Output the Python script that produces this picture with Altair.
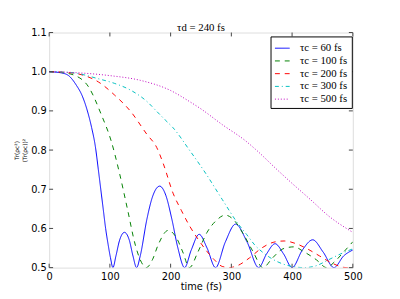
import altair as alt
import pandas as pd

series_labels = ["τc = 60 fs", "τc = 100 fs", "τc = 200 fs", "τc = 300 fs", "τc = 500 fs"]
colors = ["#0000ff", "#008000", "#ff0000", "#00bfbf", "#bf00bf"]
dashes = [[1, 0], [5, 5], [5, 5], [4, 3, 1, 3], [1, 2]]

t60 = [0, 20, 32, 45, 54, 62, 70, 76, 81, 85, 89, 93, 97, 101, 105, 110, 116, 124, 132, 138, 144,
       150, 161, 170, 182, 192, 202, 212, 223, 234, 247, 260, 274, 290, 307, 326, 345, 358, 372,
       386, 400, 417, 434, 451, 469, 485, 500]
v60 = [1.0, 0.997, 0.99, 0.965, 0.94, 0.905, 0.857, 0.81, 0.75, 0.70, 0.65, 0.60, 0.56, 0.525, 0.5,
       0.53, 0.57, 0.59, 0.57, 0.53, 0.5, 0.53, 0.624, 0.68, 0.708, 0.685, 0.624, 0.55, 0.5, 0.545,
       0.585, 0.55, 0.5, 0.565, 0.611, 0.565, 0.5, 0.535, 0.561, 0.535, 0.5, 0.545, 0.571, 0.54,
       0.5, 0.53, 0.545]

t100 = [0, 20, 43, 65, 86, 102, 116, 129, 142, 150, 160, 170, 180, 196, 210, 220, 231, 245, 260,
        275, 290, 305, 320, 336, 352, 368, 385, 403, 420, 440, 457, 470, 485, 500]
v100 = [1.0, 0.998, 0.99, 0.961, 0.89, 0.824, 0.74, 0.649, 0.557, 0.52, 0.5, 0.52, 0.56, 0.595,
        0.575, 0.54, 0.5, 0.54, 0.59, 0.62, 0.634, 0.62, 0.585, 0.54, 0.5, 0.525, 0.548, 0.553,
        0.54, 0.52, 0.5, 0.515, 0.54, 0.566]

t200 = [0, 30, 54, 81, 108, 134, 161, 177, 188, 204, 218, 231, 245, 258, 272, 285, 297, 310, 330,
        350, 370, 387, 405, 425, 445, 465, 489, 500]
v200 = [1.0, 0.998, 0.992, 0.974, 0.94, 0.899, 0.84, 0.807, 0.765, 0.69, 0.645, 0.607, 0.573,
        0.545, 0.52, 0.503, 0.5, 0.505, 0.525, 0.55, 0.565, 0.568, 0.562, 0.548, 0.53, 0.512,
        0.5, 0.502]

t300 = [0, 40, 81, 108, 134, 161, 177, 191, 204, 231, 258, 285, 312, 325, 339, 355, 376, 400,
        420, 440, 460, 480, 500]
v300 = [1.0, 0.997, 0.982, 0.97, 0.953, 0.924, 0.899, 0.877, 0.857, 0.8, 0.74, 0.674, 0.61,
        0.585, 0.557, 0.535, 0.515, 0.503, 0.5, 0.505, 0.52, 0.535, 0.548]

t500 = [0, 50, 100, 150, 200, 231, 250, 285, 323, 339, 376, 400, 430, 460, 500]
v500 = [1.0, 0.997, 0.99, 0.978, 0.952, 0.924, 0.905, 0.865, 0.824, 0.803, 0.749, 0.715, 0.674,
        0.632, 0.59]

x_ticks = [0, 100, 200, 300, 400, 500]
y_ticks = [0.5, 0.6, 0.7, 0.8, 0.9, 1.0, 1.1]

rows = []
for lab, ts, vs in zip(series_labels, [t60, t100, t200, t300, t500], [v60, v100, v200, v300, v500]):
    for t, v in zip(ts, vs):
        rows.append({"series": lab, "t": t, "v": v})
df = pd.DataFrame(rows)

x_scale = alt.Scale(domain=[0, 500], nice=False, zero=False)
y_scale = alt.Scale(domain=[0.5, 1.1], nice=False, zero=False)

font = "DejaVu Sans"
serif = "Liberation Serif"

x_axis = alt.Axis(values=x_ticks, title="time (fs)", grid=False, domain=False, ticks=False,
                  labelPadding=4, titlePadding=0, labelFontSize=10, titleFontSize=10,
                  titleFontWeight="normal", labelColor="black", titleColor="black",
                  labelFont=font, titleFont=font, labelFlush=False, labelOverlap=False)
y_axis = alt.Axis(values=y_ticks, format=".1f", title=["Tr(ρc²)", "(Tr(ρc))²"], grid=False,
                  domain=False, ticks=False, labelPadding=3, titlePadding=3, labelFontSize=10,
                  titleFontSize=6, titleFontWeight="normal", labelColor="black",
                  titleColor="black", labelFont=font, titleFont=font, labelFlush=False,
                  labelOverlap=False)

X = lambda f: alt.X(f, scale=x_scale, axis=x_axis)
Y = lambda f: alt.Y(f, scale=y_scale, axis=y_axis)

legend_cfg = dict(title=None, orient="none", legendX=226, legendY=4,
                  strokeColor="black", fillColor="white", padding=4,
                  symbolType="stroke", symbolSize=225, symbolStrokeWidth=1,
                  labelFontSize=11, labelFont=serif, labelColor="black",
                  rowPadding=0, labelOffset=10, cornerRadius=0)

lines = alt.Chart(df).mark_line(strokeWidth=1, interpolate="monotone", clip=True).encode(
    x=X("t:Q"),
    y=Y("v:Q"),
    color=alt.Color("series:N", scale=alt.Scale(domain=series_labels, range=colors),
                    sort=series_labels, legend=alt.Legend(**legend_cfg)),
    strokeDash=alt.StrokeDash("series:N", scale=alt.Scale(domain=series_labels, range=dashes),
                              sort=series_labels, legend=alt.Legend(**legend_cfg)),
)

tick_len_v = 0.01
tick_len_t = 6.5
xt_bottom = pd.DataFrame({"t": x_ticks, "v": [0.5] * 6, "v2": [0.5 + tick_len_v] * 6})
xt_top = pd.DataFrame({"t": x_ticks, "v": [1.1] * 6, "v2": [1.1 - tick_len_v] * 6})
yt_left = pd.DataFrame({"v": y_ticks, "t": [0] * 7, "t2": [tick_len_t] * 7})
yt_right = pd.DataFrame({"v": y_ticks, "t": [500] * 7, "t2": [500 - tick_len_t] * 7})

tick_color = "#444444"
ticks_layer = alt.layer(
    alt.Chart(xt_bottom).mark_rule(color=tick_color, strokeWidth=1).encode(
        x=X("t:Q"), y=Y("v:Q"), y2="v2:Q"),
    alt.Chart(xt_top).mark_rule(color=tick_color, strokeWidth=1).encode(
        x=X("t:Q"), y=Y("v:Q"), y2="v2:Q"),
    alt.Chart(yt_left).mark_rule(color=tick_color, strokeWidth=1).encode(
        y=Y("v:Q"), x=X("t:Q"), x2="t2:Q"),
    alt.Chart(yt_right).mark_rule(color=tick_color, strokeWidth=1).encode(
        y=Y("v:Q"), x=X("t:Q"), x2="t2:Q"),
)

chart = alt.layer(lines, ticks_layer).properties(
    width=310, height=240,
    title=alt.TitleParams("τd = 240 fs", fontSize=11, font=serif, fontWeight="normal",
                          color="black", offset=0, dy=5),
    padding={"left": 42, "top": 22, "right": 40, "bottom": 29},
    autosize=alt.AutoSizeParams(type="none"),
).configure_view(stroke="black", strokeWidth=1).configure(background="white")

chart.save("out.html", embed_options={"renderer": "svg", "actions": False})
